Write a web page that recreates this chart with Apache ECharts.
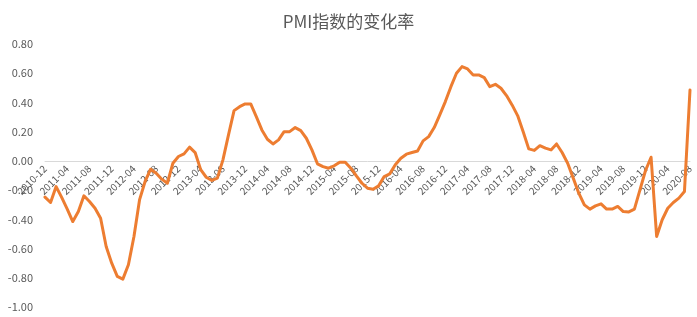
<!DOCTYPE html>
<html>
<head>
<meta charset="utf-8">
<script src="https://cdn.jsdelivr.net/npm/echarts@6/dist/echarts.min.js"></script>
<style>html,body{margin:0;padding:0;background:#fff}#c{width:697px;height:317px}</style>
</head>
<body>
<div id="c"></div>
<script>
// Categories: monthly, 2010-12 to 2020-08
var categories = [];
(function(){
  var y = 2010, m = 12;
  for (var k = 0; k < 117; k++) {
    categories.push(y + '-' + (m < 10 ? '0' + m : '' + m));
    m++; if (m > 12) { m = 1; y++; }
  }
})();

var pmiChange = [
  -0.248, -0.285, -0.176, -0.25, -0.33, -0.415, -0.347, -0.239, -0.278, -0.324,
  -0.392, -0.586, -0.700, -0.790, -0.809, -0.711, -0.517, -0.267, -0.141, -0.057,
  -0.084, -0.125, -0.153, -0.016, 0.030, 0.048, 0.094, 0.057, -0.060, -0.112,
  -0.134, -0.118, 0.007, 0.178, 0.344, 0.371, 0.390, 0.390, 0.303, 0.212,
  0.148, 0.116, 0.144, 0.200, 0.200, 0.228, 0.207, 0.155, 0.075, -0.020,
  -0.039, -0.050, -0.034, -0.009, -0.009, -0.050, -0.103, -0.153, -0.187, -0.194,
  -0.171, -0.107, -0.089, -0.027, 0.018, 0.046, 0.057, 0.068, 0.137, 0.166,
  0.228, 0.315, 0.406, 0.508, 0.600, 0.645, 0.629, 0.588, 0.588, 0.570,
  0.508, 0.524, 0.497, 0.447, 0.383, 0.310, 0.200, 0.082, 0.072, 0.104,
  0.087, 0.075, 0.116, 0.057, -0.016, -0.118, -0.221, -0.301, -0.330, -0.308,
  -0.294, -0.330, -0.330, -0.312, -0.347, -0.349, -0.330, -0.198, -0.066, 0.025,
  -0.517, -0.403, -0.324, -0.285, -0.255, -0.210, 0.485
];

var yTicks = { min: -1.0, max: 0.8, interval: 0.2 };
var titleText = 'PMI指数的变化率';

var FONT = '"Noto Sans CJK SC", sans-serif';
var G_LEFT = 45, G_RIGHT = 7, G_TOP = 44, G_BOTTOM = 10;
var plotH = 317 - G_TOP - G_BOTTOM;
var zeroH = plotH * (yTicks.max - 0) / (yTicks.max - yTicks.min);

var chart = echarts.init(document.getElementById('c'), null, { renderer: 'canvas' });
chart.setOption({
  animation: false,
  backgroundColor: '#ffffff',
  title: {
    text: titleText,
    left: 'center',
    top: 8,
    textStyle: { fontFamily: FONT, fontSize: 17, fontWeight: 'normal', color: '#595959' }
  },
  grid: [
    { left: G_LEFT, right: G_RIGHT, top: G_TOP, bottom: G_BOTTOM, containLabel: false, outerBoundsMode: 'none' },
    { left: G_LEFT, right: G_RIGHT, top: G_TOP, height: zeroH, containLabel: false, outerBoundsMode: 'none' }
  ],
  xAxis: [
    {
      type: 'category',
      gridIndex: 0,
      data: categories,
      boundaryGap: false,
      axisLine: { show: false },
      axisTick: { show: false },
      axisLabel: { show: false },
      splitLine: { show: false }
    },
    {
      type: 'category',
      gridIndex: 1,
      data: categories,
      boundaryGap: false,
      position: 'bottom',
      axisLine: { show: true, onZero: false, lineStyle: { color: '#D9D9D9', width: 1 } },
      axisTick: { show: false },
      axisLabel: {
        interval: 3,
        rotate: 45,
        margin: 6,
        fontFamily: FONT,
        fontSize: 10,
        color: '#595959'
      },
      splitLine: { show: false }
    }
  ],
  yAxis: [
    {
      type: 'value',
      gridIndex: 0,
      min: yTicks.min,
      max: yTicks.max,
      interval: yTicks.interval,
      axisLine: { show: false },
      axisTick: { show: false },
      splitLine: { show: false },
      axisLabel: {
        margin: 12,
        fontFamily: FONT,
        fontSize: 11,
        color: '#595959',
        formatter: function (v) { return v.toFixed(2); }
      }
    },
    {
      type: 'value',
      gridIndex: 1,
      min: 0,
      max: 1,
      show: false
    }
  ],
  series: [{
    type: 'line',
    xAxisIndex: 0,
    yAxisIndex: 0,
    data: pmiChange,
    showSymbol: false,
    smooth: false,
    z: 3,
    lineStyle: { color: '#ED7D31', width: 3, join: 'round', cap: 'round' },
    itemStyle: { color: '#ED7D31' }
  }]
});
</script>
</body>
</html>
